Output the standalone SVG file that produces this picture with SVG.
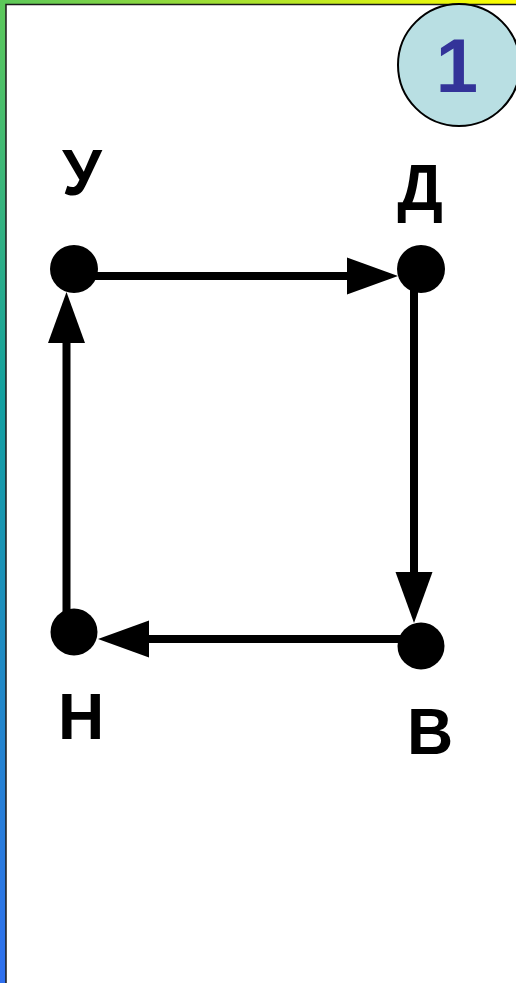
<svg xmlns="http://www.w3.org/2000/svg" width="516" height="983" viewBox="0 0 516 983">
<defs>
<linearGradient id="frame" x1="1" y1="0" x2="0" y2="1">
<stop offset="0" stop-color="#ffff00"/>
<stop offset="0.5" stop-color="#5cc85a"/>
<stop offset="0.7" stop-color="#12a0a0"/>
<stop offset="1" stop-color="#2f6ff0"/>
</linearGradient>
<marker id="arr" markerUnits="userSpaceOnUse" markerWidth="53" markerHeight="38" refX="1" refY="18.5" orient="auto" overflow="visible">
<path d="M0,0 L51,18.5 L0,37 Z" fill="#000"/>
</marker>
<style>
.edge{stroke:#000;stroke-width:8;fill:none;marker-end:url(#arr)}
.dot{fill:#000}
.lbl{font-family:"Liberation Sans",Arial,sans-serif;font-weight:bold;font-size:64px;fill:#000;text-anchor:middle}
</style>
</defs>
<rect x="0" y="0" width="516" height="983" fill="url(#frame)"/>
<rect x="6" y="4.5" width="520" height="990" fill="#fff" stroke="#1a1a1a" stroke-width="1.5"/>
<g id="badge">
<circle cx="459" cy="65" r="61" fill="#b9dfe3" stroke="#000" stroke-width="2"/>
<text x="457" y="92" font-family="'Liberation Sans',Arial,sans-serif" font-weight="bold" font-size="76" fill="#333399" text-anchor="middle">1</text>
</g>
<g id="connectors">
<line class="edge" x1="74" y1="276" x2="348" y2="276"/>
<line class="edge" x1="414" y1="269" x2="414" y2="573"/>
<line class="edge" x1="421" y1="639" x2="148" y2="639"/>
<line class="edge" x1="66.5" y1="632" x2="66.5" y2="342"/>
</g>
<g id="node-U">
<circle class="dot" cx="74" cy="269" r="24"/>
<text class="lbl" x="82" y="195">У</text>
</g>
<g id="node-D">
<circle class="dot" cx="421" cy="269" r="24"/>
<text class="lbl" x="420" y="210">Д</text>
</g>
<g id="node-V">
<circle class="dot" cx="421" cy="646" r="23.5"/>
<text class="lbl" x="430" y="754">В</text>
</g>
<g id="node-N">
<circle class="dot" cx="74" cy="632" r="23.5"/>
<text class="lbl" x="81" y="739">Н</text>
</g>
</svg>
